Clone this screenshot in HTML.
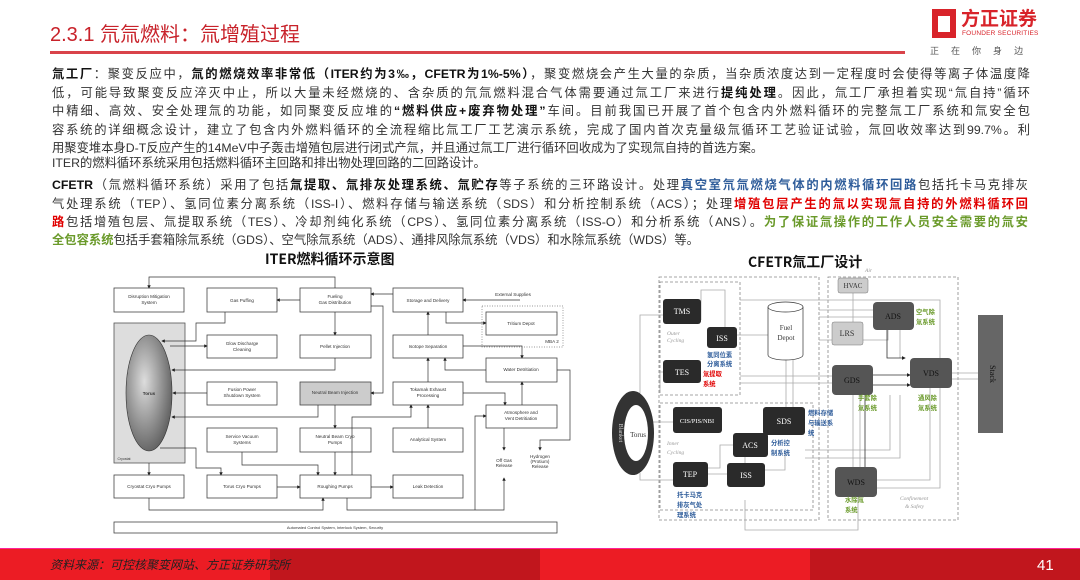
<!DOCTYPE html>
<html><head><meta charset="utf-8">
<style>
*{margin:0;padding:0;box-sizing:border-box}
body{width:1080px;height:580px;position:relative;background:#fff;overflow:hidden;font-family:"Liberation Sans","Noto Sans CJK SC",sans-serif;color:#222}
.abs{position:absolute}
.ln{position:absolute;left:52px;width:978px;font-size:12.3px;line-height:18px;height:18px;white-space:nowrap;text-align:justify;text-align-last:justify;font-family:"Liberation Sans","Noto Sans CJK SC",sans-serif;color:#333}
.nj{text-align-last:left}
b{font-weight:bold;color:#111}
.bl{color:#2e5c9a;font-weight:bold}
.rd{color:#e00000;font-weight:bold}
.gr{color:#6a9a2a;font-weight:bold}
</style></head><body>
<div class="abs" style="left:50px;top:18px;font-size:20px;color:#c8222a;font-family:'Liberation Sans','Noto Sans CJK SC',sans-serif">2.3.1 氘氚燃料：氚增殖过程</div>
<div class="abs" style="left:50px;top:51px;width:855px;height:3px;background:#d9434a"></div>
<!-- logo -->
<div class="abs" style="left:932px;top:9px;width:24px;height:29px;background:#d8232a"></div>
<div class="abs" style="left:938px;top:16px;width:12px;height:16px;background:#fff"></div>
<div class="abs" style="left:961px;top:6px;font-size:19px;font-weight:bold;color:#d8232a;font-family:'Noto Sans CJK SC',sans-serif;line-height:24px">方正证券</div>
<div class="abs" style="left:962px;top:30px;font-size:6.5px;color:#d8232a;letter-spacing:.2px">FOUNDER SECURITIES</div>
<div class="abs" style="left:930px;top:44px;font-size:9px;color:#555;word-spacing:10px;font-family:'Noto Sans CJK SC',sans-serif">正 在 你 身 边</div>

<div class="ln" style="top:65px"><b>氚工厂</b>：聚变反应中，<b>氚的燃烧效率非常低（ITER约为3‰，CFETR为1%-5%）</b>，聚变燃烧会产生大量的杂质，当杂质浓度达到一定程度时会使得等离子体温度降</div>
<div class="ln" style="top:84px">低，可能导致聚变反应淬灭中止，所以大量未经燃烧的、含杂质的氘氚燃料混合气体需要通过氚工厂来进行<b>提纯处理</b>。因此，氚工厂承担着实现“氚自持”循环</div>
<div class="ln" style="top:102px">中精细、高效、安全处理氚的功能，如同聚变反应堆的<b>“燃料供应+废弃物处理”</b>车间。目前我国已开展了首个包含内外燃料循环的完整氚工厂系统和氚安全包</div>
<div class="ln" style="top:121px">容系统的详细概念设计，建立了包含内外燃料循环的全流程缩比氚工厂工艺演示系统，完成了国内首次克量级氚循环工艺验证试验，氚回收效率达到99.7%。利</div>
<div class="ln nj" style="top:139px">用聚变堆本身D-T反应产生的14MeV中子轰击增殖包层进行闭式产氚，并且通过氚工厂进行循环回收成为了实现氚自持的首选方案。</div>
<div class="ln nj" style="top:154px">ITER的燃料循环系统采用包括燃料循环主回路和排出物处理回路的二回路设计。</div>
<div class="ln" style="top:176px;width:976px"><b>CFETR</b>（氚燃料循环系统）采用了包括<b>氚提取、氚排灰处理系统、氚贮存</b>等子系统的三环路设计。处理<span class="bl">真空室氘氚燃烧气体的内燃料循环回路</span>包括托卡马克排灰</div>
<div class="ln" style="top:195px;width:976px">气处理系统（TEP）、氢同位素分离系统（ISS-I）、燃料存储与输送系统（SDS）和分析控制系统（ACS）；处理<span class="rd">增殖包层产生的氚以实现氚自持的外燃料循环回</span></div>
<div class="ln" style="top:213px;width:976px"><span class="rd">路</span>包括增殖包层、氚提取系统（TES）、冷却剂纯化系统（CPS）、氢同位素分离系统（ISS-O）和分析系统（ANS）。<span class="gr">为了保证氚操作的工作人员安全需要的氚安</span></div>
<div class="ln nj" style="top:231px"><span class="gr">全包容系统</span>包括手套箱除氚系统（GDS）、空气除氚系统（ADS）、通排风除氚系统（VDS）和水除氚系统（WDS）等。</div>

<div class="abs" style="left:265px;top:249px;font-size:14px;font-weight:bold;color:#111;font-family:'Noto Sans CJK SC',sans-serif">ITER燃料循环示意图</div>
<div class="abs" style="left:748px;top:252px;font-size:14px;font-weight:bold;color:#111;font-family:'Noto Sans CJK SC',sans-serif">CFETR氚工厂设计</div>

<svg class="abs" style="left:0;top:0" width="1080" height="580" viewBox="0 0 1080 580">
<defs>
<marker id="a" markerWidth="5" markerHeight="5" refX="4" refY="2.5" orient="auto"><path d="M0,0L5,2.5L0,5z" fill="#222"/></marker>
<radialGradient id="tg" cx="0.4" cy="0.4" r="0.7"><stop offset="0" stop-color="#ddd"/><stop offset="1" stop-color="#555"/></radialGradient>
</defs>
<g font-family="Liberation Sans, sans-serif" font-size="4.6" fill="#333" text-anchor="middle">
<rect x="114" y="323" width="71" height="140" fill="#ddd" stroke="#555" stroke-width="0.8"/>
<ellipse cx="149" cy="393" rx="23" ry="58" fill="url(#tg)" stroke="#333" stroke-width="0.6"/>
<text x="149" y="395" font-weight="bold">Torus</text>
<text x="124" y="460" font-size="3.5">Cryostat</text>
<g fill="#fff" stroke="#444" stroke-width="0.8">
<rect x="114" y="288" width="70" height="24"/><rect x="207" y="288" width="70" height="24"/><rect x="300" y="288" width="71" height="24"/><rect x="393" y="288" width="70" height="24"/>
<rect x="486" y="312" width="71" height="23"/>
<rect x="207" y="335" width="70" height="23"/><rect x="300" y="335" width="71" height="23"/><rect x="393" y="335" width="70" height="23"/>
<rect x="486" y="358" width="71" height="24"/>
<rect x="207" y="382" width="70" height="23"/><rect x="300" y="382" width="71" height="23" fill="#ccc"/><rect x="393" y="382" width="70" height="23"/>
<rect x="486" y="405" width="71" height="23"/>
<rect x="207" y="428" width="70" height="24"/><rect x="300" y="428" width="71" height="24"/><rect x="393" y="428" width="70" height="24"/>
<rect x="114" y="475" width="70" height="23"/><rect x="207" y="475" width="70" height="23"/><rect x="300" y="475" width="71" height="23"/><rect x="393" y="475" width="70" height="23"/>
<rect x="114" y="522" width="443" height="11"/>
</g>
<rect x="482" y="306" width="81" height="41" fill="none" stroke="#777" stroke-width="0.7" stroke-dasharray="1,1.5"/>
<text x="149" y="298">Disruption Mitigation</text><text x="149" y="304">System</text>
<text x="242" y="302">Gas Puffing</text>
<text x="335" y="298">Fueling</text><text x="335" y="304">Gas Distribution</text>
<text x="428" y="302">Storage and Delivery</text>
<text x="521" y="325">Tritium Depot</text>
<text x="513" y="296">External Supplies</text><text x="552" y="343">MBA 2</text>
<text x="242" y="345">Glow Discharge</text><text x="242" y="351">Cleaning</text>
<text x="335" y="348">Pellet Injection</text>
<text x="428" y="348">Isotope Separation</text>
<text x="521" y="371">Water Detritiation</text>
<text x="242" y="391">Fusion Power</text><text x="242" y="397">Shutdown System</text>
<text x="335" y="394">Neutral Beam Injection</text>
<text x="428" y="391">Tokamak Exhaust</text><text x="428" y="397">Processing</text>
<text x="521" y="414">Atmosphere and</text><text x="521" y="420">Vent Detritiation</text>
<text x="242" y="438">Service Vacuum</text><text x="242" y="444">Systems</text>
<text x="335" y="438">Neutral Beam Cryo</text><text x="335" y="444">Pumps</text>
<text x="428" y="441">Analytical System</text>
<text x="504" y="462">Off Gas</text><text x="504" y="467">Release</text>
<text x="540" y="458">Hydrogen</text><text x="540" y="463">(Protium)</text><text x="540" y="468">Release</text>
<text x="149" y="488">Cryostat Cryo Pumps</text><text x="242" y="488">Torus Cryo Pumps</text><text x="335" y="488">Roughing Pumps</text><text x="428" y="488">Leak Detection</text>
<text x="335" y="529" font-size="4">Automated Control System, Interlock System, Security</text>
</g>
<g fill="none" stroke="#333" stroke-width="0.7" marker-end="url(#a)">
<path d="M335,288V277H149V288"/>
<path d="M300,300H277"/>
<path d="M393,294H371"/>
<path d="M520,300H463"/>
<path d="M446,312V323H486"/>
<path d="M428,335V312"/>
<path d="M335,312V335"/>
<path d="M371,306H383V393H371"/>
<path d="M225,312V323H196V341H162"/>
<path d="M170,346H207"/>
<path d="M335,358V370H172"/>
<path d="M207,393H173"/>
<path d="M318,405V417H172"/>
<path d="M335,405V428"/>
<path d="M463,346H522V358"/>
<path d="M486,370H445V358"/>
<path d="M428,382V358"/>
<path d="M463,393H505V405"/>
<path d="M522,405V382"/>
<path d="M557,370H570V440H540V450"/>
<path d="M504,428V450"/>
<path d="M428,428V405"/>
<path d="M352,475V417H411V405"/>
<path d="M335,452V475"/>
<path d="M242,452V465H318V475"/>
<path d="M160,448H196V468H221V475"/>
<path d="M149,463V475"/>
<path d="M277,487H300"/>
<path d="M371,487H393"/>
<path d="M149,498V510H323V498"/>
<path d="M347,498V510H504V478"/>
<path d="M475,510V416H486"/>
</g>

<!-- CFETR -->
<g fill="none" stroke="#888" stroke-width="0.8" stroke-dasharray="3,2">
<rect x="659" y="277" width="160" height="243"/><rect x="828" y="277" width="130" height="243"/>
<rect x="660" y="282" width="80" height="113"/><rect x="660" y="403" width="153" height="107"/>
</g>
<g fill="none" stroke="#aaa" stroke-width="0.8">
<path d="M640,393V315H663"/><path d="M701,320V290H725V327"/>
<path d="M737,335H768"/><path d="M701,372H660V393"/>
<path d="M740,300H940V358"/><path d="M740,376H832"/><path d="M740,383H832"/>
<path d="M819,310H873"/><path d="M819,317H873"/>
<path d="M786,360V407"/><path d="M793,360V407"/>
<path d="M640,473V480H673"/><path d="M653,422H673"/>
<path d="M708,474H727"/><path d="M765,470H785V452"/>
<path d="M708,468H720V445H733"/><path d="M745,463V457"/>
<path d="M745,500V530H858V497"/>
<path d="M805,450H890V395"/><path d="M805,458H900V395"/>
<path d="M877,480H930V388"/><path d="M877,488H940V388"/>
<path d="M853,467V395"/><path d="M860,467V395"/>
<path d="M952,373H978"/><path d="M952,379H978"/>
<path d="M853,280V322"/><path d="M900,330V358"/>
<path d="M819,340H888V330"/>
</g>
<g fill="none" stroke="#333" stroke-width="0.8" marker-end="url(#a)">
<path d="M873,375H910"/><path d="M887,330V358H905"/><path d="M865,467V385H910"/>
</g>
<g font-family="Liberation Serif, serif" font-size="8" text-anchor="middle" fill="#fff">
<ellipse cx="633" cy="433" rx="21" ry="42" fill="#333"/><ellipse cx="636" cy="433" rx="12" ry="28" fill="#fff"/>
<text x="638" y="437" fill="#333" font-size="7">Torus</text>
<text x="619" y="433" fill="#ccc" font-size="6" transform="rotate(90 619 433)">Blanket</text>
<rect x="663" y="299" width="38" height="25" rx="3" fill="#2a2a2a"/><text x="682" y="314">TMS</text>
<rect x="707" y="327" width="30" height="21" rx="3" fill="#2a2a2a"/><text x="722" y="341">ISS</text>
<rect x="663" y="360" width="38" height="23" rx="3" fill="#2a2a2a"/><text x="682" y="375">TES</text>
<rect x="673" y="407" width="49" height="26" rx="3" fill="#2a2a2a"/><text x="697" y="423" font-size="6.5">CIS/PIS/NBI</text>
<rect x="763" y="407" width="42" height="28" rx="3" fill="#2a2a2a"/><text x="784" y="424">SDS</text>
<rect x="733" y="433" width="35" height="24" rx="3" fill="#2a2a2a"/><text x="750" y="448">ACS</text>
<rect x="673" y="462" width="35" height="25" rx="3" fill="#2a2a2a"/><text x="690" y="477">TEP</text>
<rect x="727" y="463" width="38" height="24" rx="3" fill="#2a2a2a"/><text x="746" y="478">ISS</text>
<rect x="873" y="302" width="41" height="28" rx="4" fill="#555"/><text x="893" y="319" fill="#111">ADS</text>
<rect x="910" y="358" width="42" height="30" rx="4" fill="#555"/><text x="931" y="376" fill="#111">VDS</text>
<rect x="832" y="365" width="41" height="30" rx="4" fill="#555"/><text x="852" y="383" fill="#111">GDS</text>
<rect x="835" y="467" width="42" height="30" rx="4" fill="#555"/><text x="856" y="485" fill="#111">WDS</text>
<rect x="838" y="278" width="30" height="15" rx="2" fill="#ccc" stroke="#777" stroke-width="0.5"/><text x="853" y="288" fill="#333" font-size="7">HVAC</text>
<rect x="832" y="322" width="31" height="23" rx="2" fill="#ccc" stroke="#777" stroke-width="0.5"/><text x="847" y="336" fill="#333">LRS</text>
<rect x="978" y="315" width="25" height="118" fill="#666"/><text x="990" y="374" fill="#111" font-size="8" transform="rotate(90 990 374)">Stack</text>
<path d="M768,307V355A17.5,5 0 0 0 803,355V307" fill="#fff" stroke="#333" stroke-width="0.7"/>
<ellipse cx="785.5" cy="307" rx="17.5" ry="5" fill="#fff" stroke="#333" stroke-width="0.7"/>
<text x="786" y="330" fill="#333" font-size="7">Fuel</text><text x="786" y="340" fill="#333" font-size="7">Depot</text>
<g fill="#999" font-style="italic" font-size="5.5" text-anchor="start"><text x="667" y="335">Outer</text><text x="667" y="342">Cycling</text><text x="667" y="445">Inner</text><text x="667" y="454">Cycling</text><text x="900" y="500">Confinement</text><text x="905" y="508">&amp; Safety</text><text x="865" y="272">Air</text></g>
</g>
<g font-family="Noto Sans CJK SC, sans-serif" font-size="6.3" font-weight="bold" text-anchor="start">
<g fill="#2e5c9a"><text x="707" y="357">氢同位素</text><text x="707" y="366">分离系统</text>
<text x="808" y="415">燃料存储</text><text x="808" y="425">与输送系</text><text x="808" y="435">统</text>
<text x="771" y="445">分析控</text><text x="771" y="455">制系统</text>
<text x="677" y="497">托卡马克</text><text x="677" y="507">排灰气处</text><text x="677" y="517">理系统</text></g>
<g fill="#e00000"><text x="703" y="376">氚提取</text><text x="703" y="386">系统</text></g>
<g fill="#6a9a2a"><text x="916" y="314">空气除</text><text x="916" y="324">氚系统</text>
<text x="858" y="400">手套除</text><text x="858" y="410">氚系统</text>
<text x="918" y="400">通风除</text><text x="918" y="410">氚系统</text>
<text x="845" y="502">水除氚</text><text x="845" y="512">系统</text></g>
</g>

<!-- footer -->
<rect x="0" y="548" width="1080" height="1" fill="#f29"/>
<rect x="0" y="549" width="270" height="31" fill="#ec1c24"/><rect x="270" y="549" width="270" height="31" fill="#c1161d"/>
<rect x="540" y="549" width="270" height="31" fill="#ec1c24"/><rect x="810" y="549" width="270" height="31" fill="#c1161d"/>
<text x="50" y="569" font-family="Noto Sans CJK SC, sans-serif" font-size="12" font-style="italic" fill="#222">资料来源：可控核聚变网站、方正证券研究所</text>
<text x="1037" y="570" font-family="Liberation Sans, sans-serif" font-size="15" fill="#fff">41</text>
</svg>
</body></html>
